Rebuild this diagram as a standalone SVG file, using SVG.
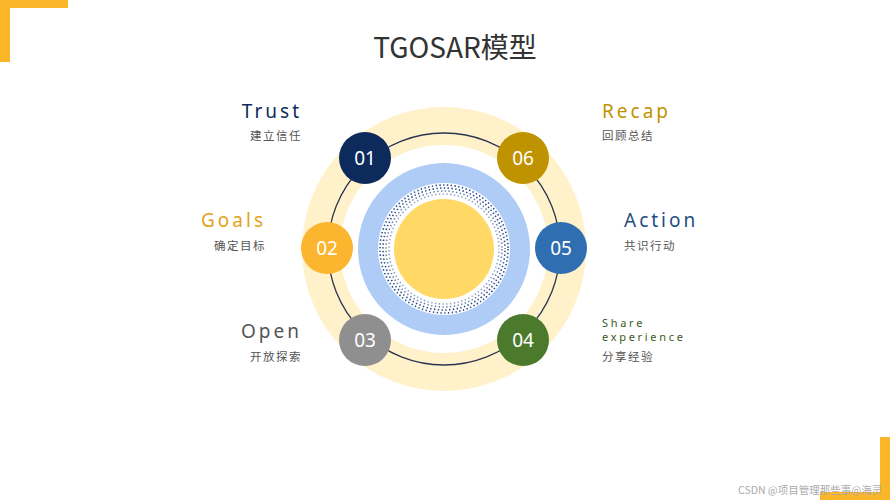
<svg xmlns="http://www.w3.org/2000/svg" width="890" height="500" viewBox="0 0 890 500">
<style>
.t{font-family:"Noto Sans","Liberation Sans",sans-serif;letter-spacing:3px;font-size:19px}
.s{font-family:"Noto Sans CJK SC",sans-serif;font-size:11.5px;fill:#555;letter-spacing:1.5px}
.n{font-family:"Noto Sans","Liberation Sans",sans-serif;font-size:19px;fill:#fff;text-anchor:middle}
.d{fill:none;stroke:#2a4a8a;stroke-width:1.6;stroke-dasharray:1.4 2.4}
.e{font-family:"Noto Sans","Liberation Sans",sans-serif;font-size:11px;letter-spacing:2.7px;fill:#3b5a22}
</style>
<rect width="890" height="500" fill="#fff"/>
<g id="brackets" fill="#fbb528">
<rect x="0" y="0" width="68" height="8"/><rect x="0" y="0" width="10" height="62"/>
<rect x="880" y="437" width="10" height="63"/><rect x="820" y="492" width="70" height="8"/>
</g>
<text x="455" y="58" text-anchor="middle" font-family="Noto Sans CJK SC, sans-serif" font-size="28" fill="#333">TGOSAR模型</text>
<g id="center">
<circle cx="444" cy="249" r="123" fill="none" stroke="#fff1c9" stroke-width="38"/>
<circle cx="444" cy="249" r="86" fill="#afccf7"/>
<circle cx="444" cy="249" r="66" fill="#fff"/>
<circle class="d" cx="444" cy="249" r="64"/>
<circle class="d" cx="444" cy="249" r="61" stroke-dashoffset="2"/>
<circle class="d" cx="444" cy="249" r="58" opacity=".7"/>
<circle class="d" cx="444" cy="249" r="55" opacity=".5" stroke-dashoffset="1"/>
<circle cx="444" cy="249" r="50" fill="#ffd865"/>
</g>
<g id="connectors"><circle cx="444" cy="249" r="116" fill="none" stroke="#2b3550" stroke-width="1.3"/></g>
<g id="n01"><circle cx="365" cy="158" r="26" fill="#0d2a5c"/><text class="n" x="365" y="165">01</text></g>
<g id="n02"><circle cx="327" cy="248" r="26" fill="#fbb52e"/><text class="n" x="327" y="255">02</text></g>
<g id="n03"><circle cx="365" cy="340" r="26" fill="#8f8f8f"/><text class="n" x="365" y="347">03</text></g>
<g id="n04"><circle cx="523" cy="340" r="26" fill="#4c7a2c"/><text class="n" x="523" y="347">04</text></g>
<g id="n05"><circle cx="561" cy="248" r="26" fill="#2f6eb0"/><text class="n" x="561" y="255">05</text></g>
<g id="n06"><circle cx="523" cy="158" r="26" fill="#bf9200"/><text class="n" x="523" y="165">06</text></g>
<g id="labels">
<text class="t" x="302" y="118" text-anchor="end" fill="#0d2a5c">Trust</text>
<text class="s" x="302" y="140" text-anchor="end">建立信任</text>
<text class="t" x="266" y="227" text-anchor="end" fill="#e3a21a">Goals</text>
<text class="s" x="266" y="250" text-anchor="end">确定目标</text>
<text class="t" x="302" y="338" text-anchor="end" fill="#555">Open</text>
<text class="s" x="302" y="361" text-anchor="end">开放探索</text>
<text class="t" x="602" y="118" fill="#bf9200">Recap</text>
<text class="s" x="602" y="140">回顾总结</text>
<text class="t" x="624" y="227" fill="#1e4e80">Action</text>
<text class="s" x="624" y="250">共识行动</text>
<text class="e" x="602" y="327">Share</text>
<text class="e" x="602" y="341">experience</text>
<text class="s" x="602" y="361">分享经验</text>
</g>
<text x="738" y="494" font-family="Noto Sans CJK SC, sans-serif" font-size="10.5" fill="#aaa">CSDN @项目管理那些事@海灵</text>
</svg>
